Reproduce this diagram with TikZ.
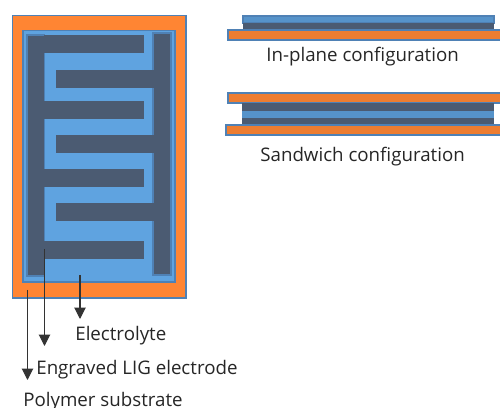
\documentclass[tikz,border=0pt]{standalone}
\usepackage{fontspec}
\setmainfont{Open Sans}
\usetikzlibrary{arrows.meta,positioning,calc}
\definecolor{substrate}{HTML}{FF8533}
\definecolor{substratedark}{HTML}{ED7D31}
\definecolor{electrolyte}{HTML}{5FA3E0}
\definecolor{electrode}{HTML}{4B5B72}
\definecolor{edgeblue}{HTML}{4F81B5}
\begin{document}
\begin{tikzpicture}[x=0.02cm,y=-0.02cm,>={Triangle[length=6.5pt,width=6.5pt]},
    layer/.style={draw=edgeblue,line width=0.6pt},
    lbl/.style={font=\fontsize{10.65}{13}\selectfont,text=black!85,inner sep=0pt,anchor=base west},
    lead/.style={->,line width=0.6pt,black!80}]
  \useasboundingbox (0,0) rectangle (500,408);
  % vista dall'alto
  \draw[layer,fill=substrate] (12.5,15.5) rectangle (186,298);
  \draw[layer,fill=electrolyte,line width=1pt] (23,30.5) rectangle (175,282);
  \draw[layer,fill=electrode] (27,35) rectangle (44.5,276);
  \draw[layer,fill=electrode] (153,33) rectangle (171,275);
  \foreach \y in {35,101,169,241}
    \fill[electrode] (44,\y) rectangle (143.5,\y+18);
  \foreach \y in {70,135,203}
    \fill[electrode] (55.5,\y) rectangle (154,\y+18);
  % configurazioni
  \draw[layer,fill=electrolyte!90!black] (243,16) rectangle (494,23);
  \draw[layer,draw=none,fill=electrode] (243,23) rectangle (494,30);
  \draw[layer,fill=substratedark] (228,30) rectangle (501,40);
  \draw[layer,fill=substratedark] (228,93) rectangle (501,103);
  \draw[layer,draw=none,fill=electrode] (242,103) rectangle (494,125);
  \draw[layer,draw=none,fill=electrolyte!90!black] (242,111) rectangle (494,118);
  \draw[layer,fill=substratedark] (226,125) rectangle (501,135);
  % etichette
  \node[lbl] (inplane) at (266,62) {In-plane configuration};
  \node[lbl] (sandwich) at (260,162) {Sandwich configuration};
  \node[lbl] (electrolytetxt) at (75,340) {Electrolyte};
  \node[lbl] (electrodetxt) at (36,374) {Engraved LIG electrode};
  \node[lbl] (polymertxt) at (23,406) {Polymer substrate};
  % frecce
  \coordinate (elyte) at (80,275);
  \coordinate (elec) at (44.5,249);
  \coordinate (poly) at (27.5,290);
  \draw[lead] (elyte) -- (elyte |- 0,319);
  \draw[lead] (elec) -- (elec |- 0,346);
  \draw[lead] (poly) -- (poly |- 0,380);
\end{tikzpicture}
\end{document}
